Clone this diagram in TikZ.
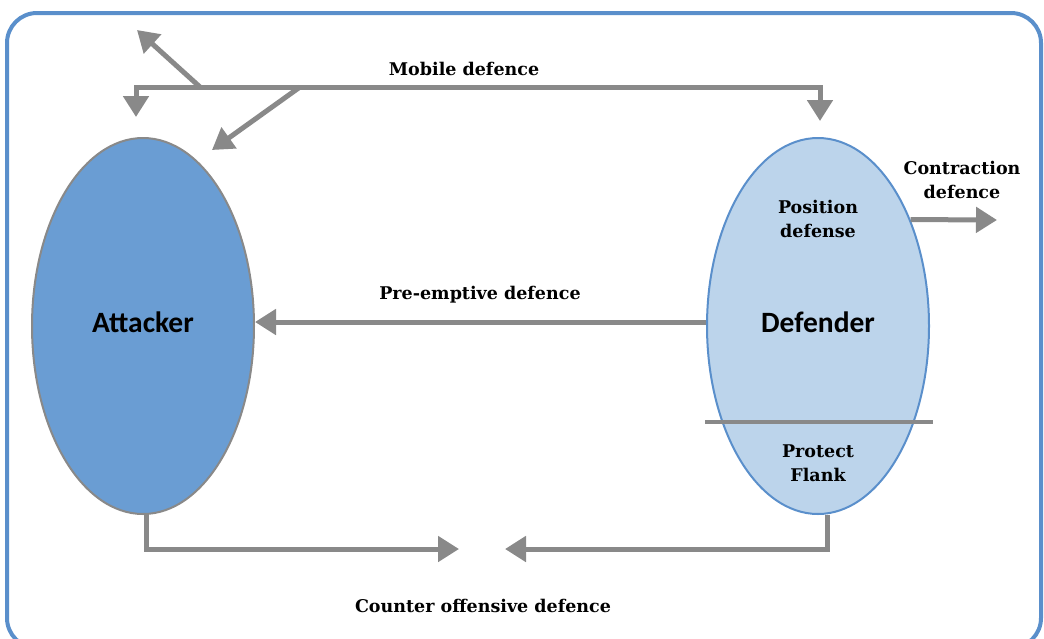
\documentclass[tikz,border=0pt]{standalone}
\usepackage{fontspec}
\setmainfont{DejaVu Serif}
\newfontfamily\bodyfont{Carlito}
\usetikzlibrary{arrows.meta}
\usetikzlibrary{shapes.geometric}
\usetikzlibrary{positioning}
\usetikzlibrary{calc}

\definecolor{framecol}{HTML}{5A8FCB}
\definecolor{flowgray}{HTML}{898989}
\definecolor{attackfill}{HTML}{6A9DD3}
\definecolor{defendfill}{HTML}{BCD4EB}

\begin{document}
\begin{tikzpicture}[x=1pt, y=-1pt,
    flow/.style={draw=flowgray, line width=5pt, line join=miter,
      -{Triangle[length=21pt, width=25pt]}},
    tag/.style={font=\bfseries\fontsize{17.5}{24}\selectfont, align=center},
    party/.style={ellipse, inner sep=0pt, minimum width=222pt,
      minimum height=376pt, line width=2pt, text depth=8pt,
      font=\bodyfont\bfseries\fontsize{29.5}{32}\selectfont}]
    \useasboundingbox (0,0) rectangle (1044,638);
    \clip (0,0) rectangle (1044,638);
    \draw[framecol, line width=4pt, rounded corners=30pt] (7,13) rectangle (1041,648);

    \node[party, fill=attackfill, draw=flowgray] (attacker) at (143,326) {Attacker};
    \node[party, fill=defendfill, draw=framecol] (defender) at (818,326) {Defender};
    \draw[flowgray, line width=4pt] (705,422) -- (933,422);

    \node[tag] (position) at (818,219) {Position\\defense};
    \node[tag] (flank) at (818,463) {Protect\\Flank};

    % mobile defence: bar over both ellipses
    \coordinate (barmid) at (478,87);
    \draw[flow, {Triangle[length=21pt, width=25pt]}-{Triangle[length=21pt, width=25pt]}]
      ($(attacker.north)+(-7,-20)$) |- (barmid) -| ($(defender.north)+(2,-16)$);
    \coordinate (fork1) at (200,87);
    \coordinate (fork2) at (300,87);
    \coordinate (away) at (137,30);
    \coordinate (back) at (212,150);
    \draw[flow] (fork1) -- (away);
    \draw[flow] (fork2) -- (back);
    \node[tag] (mobile) at (464,69) {Mobile defence};

    % pre-emptive defence
    \coordinate (preout) at ($(defender.west)+(0,-4)$);
    \draw[flow] (preout) -- (attacker.east |- preout);
    \node[tag] (preempt) at (480,295) {Pre-emptive defence};

    % contraction defence
    \coordinate (outside) at (997,220);
    \draw[flow] (defender.49) -- (outside);
    \node[tag] (contract) at (962,180) {Contraction\\defence};

    % counter offensive defence
    \coordinate (meet) at (482,549);
    \draw[flow] ([xshift=3pt]attacker.south) |- ($(meet)+(-23,0)$);
    \draw[flow] ([xshift=9pt]defender.south) |- ($(meet)+(23,0)$);
    \node[tag] (counter) at (483,606) {Counter offensive defence};
\end{tikzpicture}
\end{document}
